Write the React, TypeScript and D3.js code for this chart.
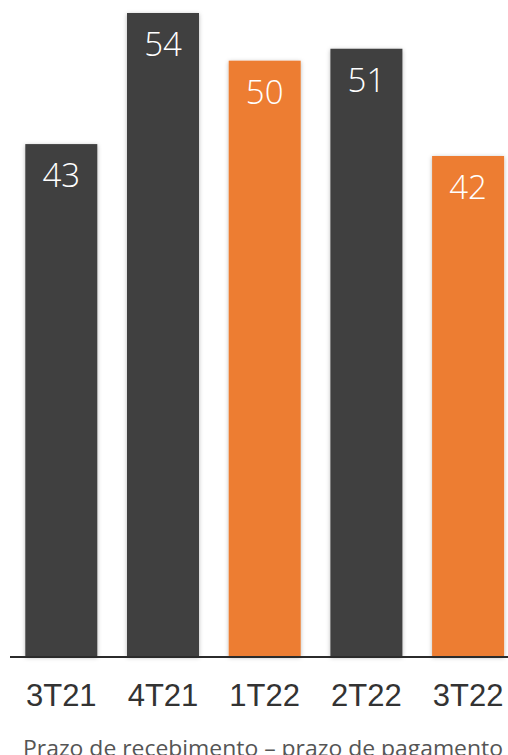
import React from "react";
import * as d3 from "d3";

const categories = ["3T21", "4T21", "1T22", "2T22", "3T22"];
const values = [43, 54, 50, 51, 42];
const highlight = [false, false, true, false, true];
const title = "Prazo de recebimento – prazo de pagamento";

const W = 508;
const H = 755;
const baseY = 656.5;

export default function App() {
  const x = d3
    .scaleBand<string>()
    .domain(categories)
    .range([25.3, 504.1])
    .paddingInner(0.292)
    .paddingOuter(0);
  const y = d3.scaleLinear().domain([0, 54]).range([baseY, 13]);

  return (
    <svg
      width={W}
      height={H}
      style={{ position: "absolute", left: 0, top: 0, background: "#fff" }}
    >
      <defs>
        <filter id="sh" x="-20%" y="-5%" width="140%" height="110%">
          <feDropShadow dx="0" dy="1" stdDeviation="2.2" floodColor="#000" floodOpacity="0.28" />
        </filter>
      </defs>
      {categories.map((c, i) => (
        <rect
          key={c}
          x={x(c)}
          y={y(values[i])}
          width={x.bandwidth()}
          height={baseY - y(values[i])}
          fill={highlight[i] ? "#ED7D31" : "#404040"}
          filter="url(#sh)"
        />
      ))}
      <line x1={10} x2={W} y1={baseY + 0.5} y2={baseY + 0.5} stroke="#2b2b2b" strokeWidth={2} />
      {categories.map((c, i) => (
        <text
          key={"v" + c}
          x={(x(c) as number) + x.bandwidth() / 2}
          y={y(values[i]) + 43}
          textAnchor="middle"
          fill="#fff"
          fontFamily="'Open Sans', sans-serif"
          fontWeight={300}
          fontSize={33}
        >
          {values[i]}
        </text>
      ))}
      {categories.map((c) => (
        <text
          key={"c" + c}
          x={(x(c) as number) + x.bandwidth() / 2}
          y={706}
          textAnchor="middle"
          fill="#333"
          fontFamily="'Liberation Sans', Arial, sans-serif"
          fontSize={31}
        >
          {c}
        </text>
      ))}
      <text
        x={23}
        y={756}
        fill="#555"
        fontFamily="'Open Sans', sans-serif"
        fontWeight={400}
        fontSize={22}
        textLength={480}
        lengthAdjust="spacingAndGlyphs"
      >
        {title}
      </text>
    </svg>
  );
}
